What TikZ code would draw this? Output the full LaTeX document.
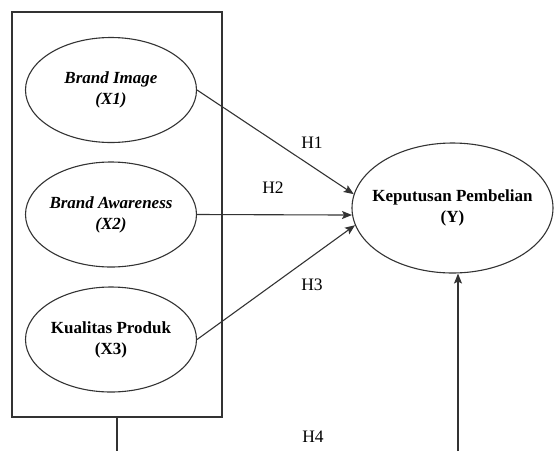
\documentclass[tikz,border=0pt]{standalone}
\usepackage{fontspec}
\setmainfont{Liberation Serif}
\usetikzlibrary{shapes.geometric,arrows.meta}

\begin{document}
\begin{tikzpicture}[
        x=1pt, y=-1pt,
    every path/.style={line width=1.1pt},
    var/.style={draw, ellipse, inner ysep=0pt, inner xsep=-15pt, align=center,
        minimum width=171pt, minimum height=105pt,
        font=\fontsize{17}{21}\selectfont\bfseries},
    hyp/.style={font=\fontsize{17.5}{21}\selectfont},
    link/.style={-{Stealth[length=10pt,width=8pt,inset=2pt]}}
]
    \colorlet{ink}{black!80}

    \useasboundingbox (0,0) rectangle (554,451);

    \node (box) [draw=ink, minimum width=210pt, minimum height=405pt, inner sep=0pt] at (117,214.5) {};
    \node (x1) [var, draw=ink] at (111,90) {\textit{Brand Image}\\\textit{(X1)}};
    \node (x2) [var, draw=ink] at (111,214.5) {\textit{Brand Awareness}\\\textit{(X2)}};
    \node (x3) [var, draw=ink] at (111,339.5) {Kualitas Produk\\(X3)};
    \node (y) [var, draw=ink, minimum width=201pt, minimum height=130pt] at (452.5,208) {Keputusan Pembelian\\(Y)};

    \node (h1) [hyp] at (312,143) {H1};
    \node (h2) [hyp] at (273,188) {H2};
    \node (h3) [hyp] at (312,285) {H3};
    \node (h4) [hyp] at (313,437) {H4};

    \coordinate (bl) at (117,451);
    \coordinate (br) at (458,451);

    \draw [ink, link] (x1.east) -- (y.172);
    \draw [ink, link] (x2.east) -- (y.184);
    \draw [ink, link] (x3.east) -- (y.190);
    \draw [ink] (box.south) -- (bl);
    \draw [ink, link] (br) -- (br |- y.south);
  \end{tikzpicture}
\end{document}
